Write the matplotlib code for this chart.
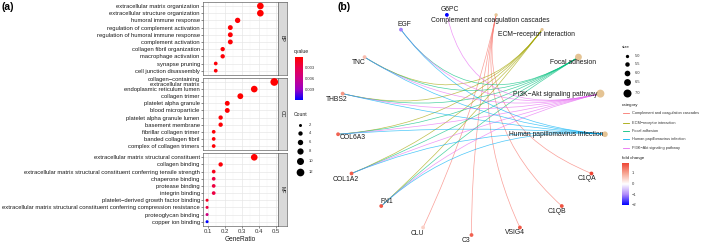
import numpy as np
import matplotlib
matplotlib.use("Agg")
import matplotlib.pyplot as plt
from matplotlib.colors import LinearSegmentedColormap, Normalize, TwoSlopeNorm
from matplotlib.path import Path
from matplotlib.patches import PathPatch
from matplotlib.cm import ScalarMappable

plt.rcParams['font.family'] = ['Liberation Sans', 'DejaVu Sans']

# ---------------- data: panel (a) ----------------
bp_terms = ["extracellular matrix organization", "extracellular structure organization",
            "humoral immune response", "regulation of complement activation",
            "regulation of humoral immune response", "complement activation",
            "collagen fibril organization", "macrophage activation",
            "synapse pruning", "cell junction disassembly"]
bp_ratio = [0.41, 0.41, 0.276, 0.233, 0.233, 0.233, 0.188, 0.188, 0.147, 0.147]
bp_count = [9, 9, 6, 5, 5, 5, 4, 4, 3, 3]
bp_q = [0.0003, 0.0003, 0.0005, 0.0004, 0.0005, 0.0005, 0.0005, 0.0006, 0.0006, 0.0006]

cc_terms = ["collagen\u2212containing\nextracellular matrix", "endoplasmic reticulum lumen",
            "collagen trimer", "platelet alpha granule", "blood microparticle",
            "platelet alpha granule lumen", "basement membrane", "fibrillar collagen trimer",
            "banded collagen fibril", "complex of collagen trimers"]
cc_ratio = [0.492, 0.374, 0.292, 0.215, 0.215, 0.176, 0.176, 0.135, 0.135, 0.135]
cc_count = [12, 9, 7, 5, 5, 4, 4, 3, 3, 3]
cc_q = [0.0003, 0.0003, 0.0003, 0.0004, 0.0004, 0.0005, 0.0005, 0.0005, 0.0005, 0.0005]

mf_terms = ["extracellular matrix structural constituent", "collagen binding",
            "extracellular matrix structural constituent conferring tensile strength",
            "chaperone binding", "protease binding", "integrin binding",
            "platelet\u2212derived growth factor binding",
            "extracellular matrix structural constituent conferring compression resistance",
            "proteoglycan binding", "copper ion binding"]
mf_ratio = [0.374, 0.176, 0.135, 0.135, 0.135, 0.135, 0.096, 0.096, 0.096, 0.096]
mf_count = [9, 4, 3, 3, 3, 3, 2, 2, 2, 2]
mf_q = [0.0003, 0.0006, 0.0012, 0.0026, 0.0026, 0.0027, 0.0016, 0.0026, 0.0055, 0.0117]

ontologies = ["BP", "CC", "MF"]
xticks_a = [0.1, 0.2, 0.3, 0.4, 0.5]
q_ticks = [0.003, 0.006, 0.009]
count_legend = [2, 4, 6, 8, 10, 12]

# ---------------- data: panel (b) ----------------
categories = ["Complement and coagulation cascades", "ECM\u2212receptor interaction",
              "Focal adhesion", "PI3K\u2212Akt signaling pathway",
              "Human papillomavirus infection"]
cat_size = [5, 5, 6.5, 7, 6]
genes = ["C1QA", "C1QB", "VSIG4", "C3", "CLU", "FN1", "COL1A2", "COL6A3",
         "THBS2", "TNC", "EGF", "G6PC"]
fold_change = [1.9, 1.75, 1.7, 1.6, 0.5, 1.7, 1.65, 1.6, 1.1, 0.7, -1.1, -2.07]
members = {
    "Complement and coagulation cascades": ["C1QA", "C1QB", "VSIG4", "C3", "CLU"],
    "ECM\u2212receptor interaction": ["FN1", "COL1A2", "COL6A3", "THBS2", "TNC"],
    "Focal adhesion": ["FN1", "COL1A2", "COL6A3", "THBS2", "TNC", "EGF"],
    "PI3K\u2212Akt signaling pathway": ["FN1", "COL1A2", "COL6A3", "THBS2", "TNC", "EGF", "G6PC"],
    "Human papillomavirus infection": ["FN1", "COL1A2", "COL6A3", "THBS2", "TNC", "EGF"],
}
legend_order = ["Complement and coagulation cascades", "ECM\u2212receptor interaction",
                "Focal adhesion", "Human papillomavirus infection",
                "PI3K\u2212Akt signaling pathway"]
size_legend = [5.0, 5.5, 6.0, 6.5, 7.0]
fc_ticks = [1, 0, -1, -2]

# ---------------- styling ----------------
W, H = 709, 243
fig = plt.figure(figsize=(W / 100, H / 100), dpi=100)


def px_axes(l, t, r, b, **kw):
    return fig.add_axes([l / W, 1 - b / H, (r - l) / W, (b - t) / H], **kw)


q_cmap = LinearSegmentedColormap.from_list(
    "q", ["#FF0000", "#E80050", "#C9008A", "#9A00C3", "#0000FF"])
all_q = bp_q + cc_q + mf_q
q_norm = Normalize(vmin=min(all_q), vmax=max(all_q))


def count_diam(c):
    lo, hi = np.sqrt(2), np.sqrt(12)
    return 3.0 + (np.sqrt(c) - lo) / (hi - lo) * 4.7


label_fs = 4.24
txt_col = "#1A1A1A"
panels = [(bp_terms, bp_ratio, bp_count, bp_q, 1.7, 75.0),
          (cc_terms, cc_ratio, cc_count, cc_q, 77.7, 150.3),
          (mf_terms, mf_ratio, mf_count, mf_q, 153.0, 226.0)]
for i, (terms, ratio, cnt, q, t, b) in enumerate(panels):
    ax = px_axes(203, t, 278, b)
    n = len(terms)
    ypos = np.arange(n)
    ax.set_xlim(0.072, 0.514)
    ax.set_ylim(n - 1 + 0.6, -0.6)
    ax.set_xticks(xticks_a)
    ax.set_xticks([0.15, 0.25, 0.35, 0.45], minor=True)
    ax.set_yticks(ypos)
    ax.set_yticklabels(terms, fontsize=label_fs, color=txt_col, linespacing=0.9)
    ax.grid(True, which="major", color="#E5E5E5", lw=0.45)
    ax.grid(True, which="minor", axis="x", color="#F2F2F2", lw=0.3)
    ax.set_axisbelow(True)
    for s in ax.spines.values():
        s.set_color("#555555")
        s.set_linewidth(0.45)
    ax.tick_params(axis="both", which="major", length=1.5, width=0.4, color="#333333", pad=0.8)
    ax.tick_params(axis="both", which="minor", length=0)
    if i < 2:
        ax.set_xticklabels([])
        ax.tick_params(axis="x", length=0)
    else:
        ax.set_xticklabels([f"{v:.1f}" for v in xticks_a], fontsize=4.3, color="#333333")
        ax.set_xlabel("GeneRatio", fontsize=4.7, color=txt_col, labelpad=1)
    sizes = [(count_diam(c) * 0.72) ** 2 for c in cnt]
    ax.scatter(ratio, ypos, s=sizes, c=q, cmap=q_cmap, norm=q_norm,
               linewidths=0, zorder=3)
    # strip
    sax = px_axes(278, t, 287, b)
    sax.set_xticks([]); sax.set_yticks([])
    sax.set_facecolor("#D9D9D9")
    for s in sax.spines.values():
        s.set_color("#555555"); s.set_linewidth(0.45)
    sax.text(0.5, 0.5, ontologies[i], rotation=-90, ha="center", va="center",
             fontsize=3.8, color=txt_col, transform=sax.transAxes)

fig.text(2 / W, 1 - 7.5 / H, "(a)", fontsize=7.5, fontweight="bold", va="center", ha="left")

# qvalue colorbar
cax = px_axes(295, 57.5, 303, 100)
cb = fig.colorbar(ScalarMappable(norm=q_norm, cmap=q_cmap), cax=cax)
cb.outline.set_visible(False)
cax.invert_yaxis()
cb.set_ticks(q_ticks)
cb.set_ticklabels([f"{v:.3f}" for v in q_ticks])
cax.tick_params(labelsize=3.0, length=0, pad=1.5, colors="#333333")
fig.text(294 / W, 1 - 52 / H, "qvalue", fontsize=3.6, va="center", ha="left", color=txt_col)

# count legend (pixel coordinate overlay)
lax = px_axes(288, 105, 330, 180)
lax.set_xlim(288, 330); lax.set_ylim(180, 105); lax.axis("off")
lax.text(294, 114.5, "Count", fontsize=3.6, va="center", ha="left", color=txt_col)
leg_y = [125, 133, 142, 151, 161.5, 172]
for c, yy in zip(count_legend, leg_y):
    lax.scatter([300], [yy], s=(count_diam(c) * 0.72) ** 2, color="black", linewidths=0)
    lax.text(308.5, yy, str(c), fontsize=3.0, va="center", ha="left", color="#333333")

# ---------------- panel (b) network ----------------
cx, cy, rx, ry = 471.5, 124.0, 134.0, 111.0
L, R, T, B = 320, 620, 0, 243
bax = px_axes(L, T, R, B)
bax.set_xlim((L - cx) / rx, (R - cx) / rx)
bax.set_ylim((cy - B) / ry, (cy - T) / ry)
bax.axis("off")

nodes = categories + genes
N = len(nodes)
ang = np.deg2rad(90 - 360.0 / N * (np.arange(N) + 0.5))
pos = {nm: (np.cos(a), np.sin(a)) for nm, a in zip(nodes, ang)}

cat_colors = dict(zip(legend_order, ["#F8766D", "#A3A500", "#00BF7D", "#00B0F6", "#E76BF3"]))

for cat in categories:
    for g in members[cat]:
        p0 = pos[g]; p2 = pos[cat]
        path = Path([p0, (0.0, 0.0), p2], [Path.MOVETO, Path.CURVE3, Path.CURVE3])
        bax.add_patch(PathPatch(path, facecolor="none", edgecolor=cat_colors[cat],
                                lw=0.5, alpha=0.7, zorder=1))

fc_cmap = LinearSegmentedColormap.from_list(
    "fc", [(0.0, "#0000FF"), (0.25, "#B08BFA"), (0.5, "#FFFFFF"),
           (0.75, "#F7A592"), (1.0, "#EE4433")])
fc_norm = TwoSlopeNorm(vmin=min(fold_change), vcenter=0.0, vmax=1.91)


def cat_diam(s):
    return 3.3 + (s - 5.0) * 2.35


gx = [pos[g][0] for g in genes]
gy = [pos[g][1] for g in genes]
bax.scatter(gx, gy, s=(3.8 * 0.72) ** 2, c=fold_change, cmap=fc_cmap, norm=fc_norm,
            linewidths=0, zorder=3)
bax.scatter([pos[c][0] for c in categories], [pos[c][1] for c in categories],
            s=[(cat_diam(s) * 0.72) ** 2 for s in cat_size], color="#E5C494",
            linewidths=0, zorder=3)

# label offsets (px, right / down)
label_off = {
    "Complement and coagulation cascades": (-6, 5.5),
    "ECM\u2212receptor interaction": (-5.5, 5),
    "Focal adhesion": (-5, 5),
    "PI3K\u2212Akt signaling pathway": (-45, 0.5),
    "Human papillomavirus infection": (-48.5, 0.5),
    "C1QA": (-5, 5), "C1QB": (-5, 5), "VSIG4": (-5, 5.3), "C3": (-5.7, 5),
    "CLU": (-5.6, 5.6), "FN1": (5.3, -5), "COL1A2": (-5.4, 5.8),
    "COL6A3": (15, 3.7), "THBS2": (-6, 6), "TNC": (-5.7, 5), "EGF": (3.3, -5),
    "G6PC": (3, -5),
}
for nm in nodes:
    dx, dy = label_off[nm]
    bax.annotate(nm, pos[nm], xytext=(dx * 0.72, -dy * 0.72), textcoords="offset points",
                 ha="center", va="center", fontsize=4.9, color=txt_col, zorder=4)

fig.text(337 / W, 1 - 7.5 / H, "(b)", fontsize=7.5, fontweight="bold", va="center", ha="left")

# legends panel (b)
rax = px_axes(615, 40, 709, 215)
rax.set_xlim(615, 709); rax.set_ylim(215, 40); rax.axis("off")
rax.text(621.5, 47.3, "size", fontsize=3.2, va="center", ha="left", color=txt_col)
for s, yy in zip(size_legend, [56, 64.3, 72.7, 81.7, 92.7]):
    rax.scatter([626.7], [yy], s=(cat_diam(s) * 0.72) ** 2, color="black", linewidths=0)
    rax.text(635, yy, f"{s:.1f}", fontsize=2.9, va="center", ha="left", color="#333333")
rax.text(621.5, 105, "category", fontsize=3.2, va="center", ha="left", color=txt_col)
for cat, yy in zip(legend_order, [113.3, 122.7, 131, 139.3, 147.7]):
    rax.plot([622.5, 628.5], [yy, yy], color=cat_colors[cat], lw=0.6)
    rax.text(632.5, yy, cat, fontsize=2.75, va="center", ha="left", color="#333333")
rax.text(621.5, 157.7, "fold change", fontsize=3.2, va="center", ha="left", color=txt_col)

fcax = px_axes(621.7, 162.7, 629.3, 205)
cb2 = fig.colorbar(ScalarMappable(norm=fc_norm, cmap=fc_cmap), cax=fcax)
cb2.outline.set_visible(False)
cb2.set_ticks(fc_ticks)
cb2.set_ticklabels(["1", "0", "\u22121", "\u22122"])
fcax.tick_params(labelsize=3.0, length=0, pad=1.5, colors="#333333")

fig.savefig("out.png", dpi=100)
